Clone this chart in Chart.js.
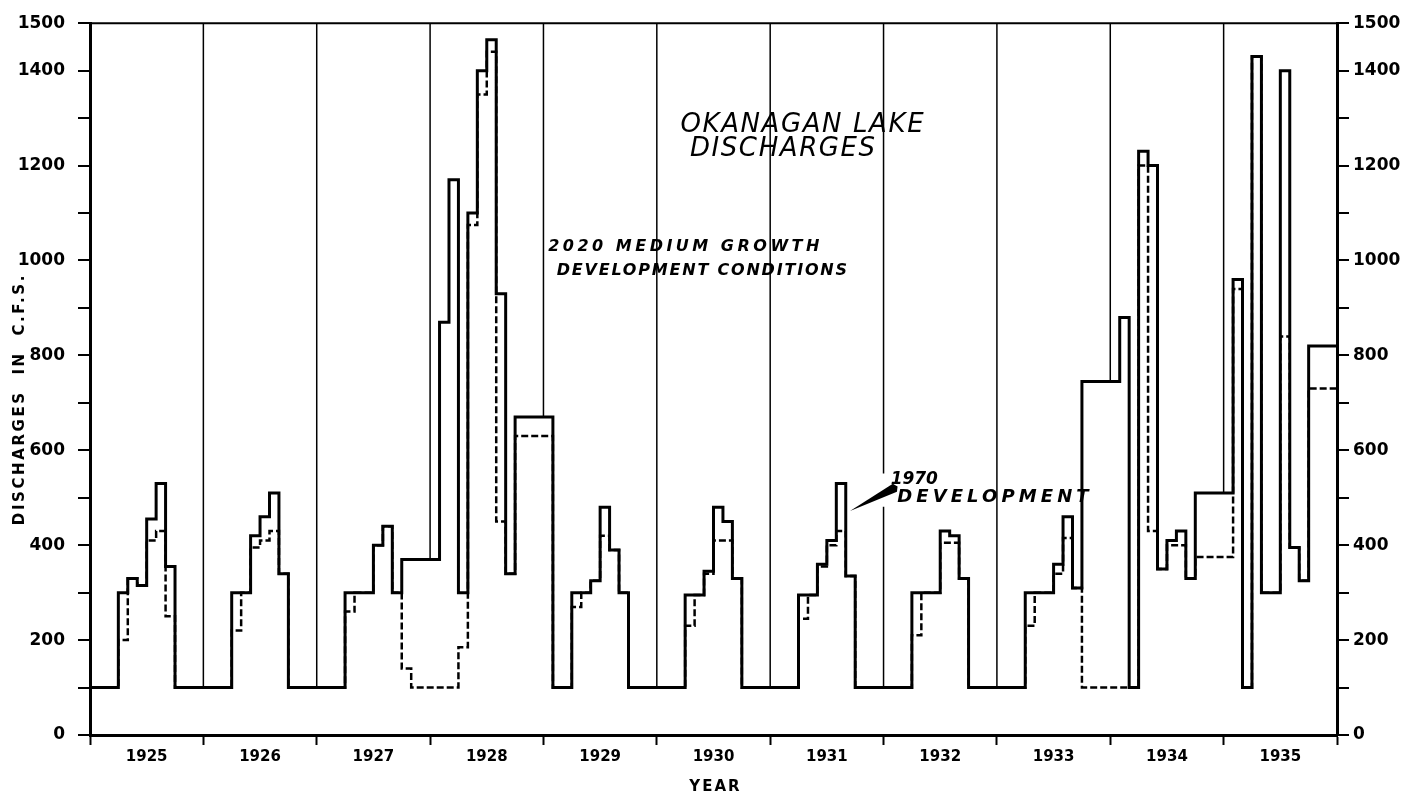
<!DOCTYPE html>
<html>
<head>
<meta charset="utf-8">
<script src="https://cdn.jsdelivr.net/npm/chart.js@4"></script>
<style>
  html, body { margin: 0; padding: 0; background: #fff; }
  canvas { display: block; }
</style>
</head>
<body>
<canvas id="myChart" width="1411" height="800"></canvas>
<script>
// years along the bottom, one block of 12 monthly values each
const years = [1925, 1926, 1927, 1928, 1929, 1930, 1931, 1932, 1933, 1934, 1935];

// 1970 development (heavy solid line), cfs, Jan..Dec for each year
const dev1970 = [
    100, 100, 100, 300, 330, 315, 455, 530, 355, 100, 100, 100,   // 1925
    100, 100, 100, 300, 300, 420, 460, 510, 340, 100, 100, 100,   // 1926
    100, 100, 100, 300, 300, 300, 400, 440, 300, 370, 370, 370,   // 1927
    370, 870, 1170, 300, 1100, 1400, 1465, 930, 340, 670, 670, 670, // 1928
    670, 100, 100, 300, 300, 325, 480, 390, 300, 100, 100, 100,   // 1929
    100, 100, 100, 295, 295, 345, 480, 450, 330, 100, 100, 100,   // 1930
    100, 100, 100, 295, 295, 360, 410, 530, 335, 100, 100, 100,   // 1931
    100, 100, 100, 300, 300, 300, 430, 420, 330, 100, 100, 100,   // 1932
    100, 100, 100, 300, 300, 300, 360, 460, 310, 745, 745, 745,   // 1933
    745, 880, 100, 1230, 1200, 350, 410, 430, 330, 510, 510, 510, // 1934
    510, 960, 100, 1430, 300, 300, 1400, 395, 325, 820, 820, 820  // 1935
];

// 2020 medium growth development conditions (dashed line)
const dev2020 = [
    100, 100, 100, 200, 330, 315, 410, 430, 250, 100, 100, 100,   // 1925
    100, 100, 100, 220, 300, 395, 410, 430, 340, 100, 100, 100,   // 1926
    100, 100, 100, 260, 300, 300, 400, 440, 300, 140, 100, 100,   // 1927
    100, 100, 100, 185, 1075, 1350, 1440, 450, 340, 630, 630, 630, // 1928
    630, 100, 100, 270, 300, 325, 420, 390, 300, 100, 100, 100,   // 1929
    100, 100, 100, 230, 295, 340, 410, 410, 330, 100, 100, 100,   // 1930
    100, 100, 100, 245, 295, 355, 400, 430, 335, 100, 100, 100,   // 1931
    100, 100, 100, 210, 300, 300, 405, 405, 330, 100, 100, 100,   // 1932
    100, 100, 100, 230, 300, 300, 340, 415, 310, 100, 100, 100,   // 1933
    100, 100, 100, 1200, 430, 350, 400, 400, 330, 375, 375, 375,  // 1934
    375, 940, 100, 1430, 300, 300, 840, 395, 325, 730, 730, 730   // 1935
];

const yMax = 1500;

// month index -> {x, y}; extra point closes the last month at the right axis
function toSteps(values) {
    let pts = values.map((v, i) => ({x: i, y: v}));
    pts.push({x: values.length, y: values[values.length - 1]});
    return pts;
}

const FONT = '"DejaVu Sans", sans-serif';

function drawSpaced(ctx, text, x, y, font, spacing) {
    ctx.font = font;
    ctx.letterSpacing = spacing + 'px';
    ctx.fillText(text, x, y);
    ctx.letterSpacing = '0px';
}

// year dividers, frame top, lettering and the 1970 pointer
const extras = {
    id: 'extras',
    beforeDatasetsDraw(chart) {
        const ctx = chart.ctx;
        const xs = chart.scales.x, ys = chart.scales.y;
        const area = chart.chartArea;
        ctx.save();
        ctx.strokeStyle = '#000';
        ctx.lineWidth = 1.5;
        for (let k = 1; k < years.length; k++) {
            let i = 12 * k;
            let x = xs.getPixelForValue(i);
            let low = Math.max(dev1970[i - 1], dev1970[i]);
            let segs = [[low, yMax]];
            if (i === 84) segs = [[low, 481], [551, yMax]];
            segs.forEach(s => {
                ctx.beginPath();
                ctx.moveTo(x, ys.getPixelForValue(s[0]));
                ctx.lineTo(x, ys.getPixelForValue(s[1]));
                ctx.stroke();
            });
        }
        ctx.lineWidth = 2;
        ctx.beginPath();
        ctx.moveTo(area.left, area.top);
        ctx.lineTo(area.right, area.top);
        ctx.stroke();
        ctx.restore();
    },
    afterDraw(chart) {
        const ctx = chart.ctx;
        const xs = chart.scales.x, ys = chart.scales.y;
        const px = v => xs.getPixelForValue(v);
        const py = v => ys.getPixelForValue(v);
        ctx.save();
        ctx.fillStyle = '#000';
        ctx.textBaseline = 'alphabetic';
        ctx.textAlign = 'left';

        drawSpaced(ctx, 'OKANAGAN LAKE', px(62.5), py(1270), 'italic 500 26px ' + FONT, 1.6);
        drawSpaced(ctx, 'DISCHARGES', px(63.5), py(1220), 'italic 500 26px ' + FONT, 1.6);

        drawSpaced(ctx, '2020 MEDIUM GROWTH', px(48.5), py(1019), 'italic bold 16px ' + FONT, 3.5);
        drawSpaced(ctx, 'DEVELOPMENT CONDITIONS', px(49.4), py(969), 'italic bold 16px ' + FONT, 1.8);

        drawSpaced(ctx, '1970', px(84.75), py(529), 'italic bold 17px ' + FONT, 0);
        drawSpaced(ctx, 'DEVELOPMENT', px(85.45), py(492), 'italic bold 18px ' + FONT, 4.1);

        // pointer wedge from the label to the 1970 line
        let tx = px(80.45), ty = py(472);
        let bx = px(85.2), by = py(521);
        let dx = bx - tx, dy = by - ty;
        let len = Math.hypot(dx, dy);
        let nx = -dy / len * 4.5, ny = dx / len * 4.5;
        ctx.beginPath();
        ctx.moveTo(tx, ty);
        ctx.lineTo(bx + nx, by + ny);
        ctx.lineTo(bx + dx / len * 3, by + dy / len * 3);
        ctx.lineTo(bx - nx, by - ny);
        ctx.closePath();
        ctx.fill();

        // axis titles
        ctx.textAlign = 'center';
        ctx.textBaseline = 'middle';
        ctx.save();
        ctx.translate(20, (chart.chartArea.top + chart.chartArea.bottom) / 2 + 20);
        ctx.rotate(-Math.PI / 2);
        drawSpaced(ctx, 'DISCHARGES  IN  C.F.S.', 0, 0, 'bold 15px ' + FONT, 2.6);
        ctx.restore();
        drawSpaced(ctx, 'YEAR', (chart.chartArea.left + chart.chartArea.right) / 2 + 2, 787, 'bold 15px ' + FONT, 2);
        ctx.restore();
    }
};

function yAxis(position, width, pad) {
    return {
        type: 'linear',
        position: position,
        display: true,
        min: 0,
        max: yMax,
        ticks: {
            stepSize: 100,
            autoSkip: false,
            padding: pad,
            color: '#000',
            font: {family: FONT, weight: 'bold', size: 17},
            callback: v => (v % 200 === 0 || v === yMax) ? v : ''
        },
        grid: {drawOnChartArea: false, tickLength: 12, color: '#000', lineWidth: 2},
        border: {color: '#000', width: 3},
        afterFit: s => { s.width = width; }
    };
}

const ctx = document.getElementById('myChart');

const myChart = new Chart(ctx, {
    type: 'line',
    data: {
        datasets: [
            {
                label: '1970 Development',
                data: toSteps(dev1970),
                stepped: true,
                borderColor: '#000',
                borderWidth: 3,
                borderJoinStyle: 'miter',
                pointRadius: 0,
                fill: false
            },
            {
                label: '2020 Medium Growth Development Conditions',
                data: toSteps(dev2020),
                stepped: true,
                borderColor: '#000',
                borderWidth: 2.5,
                borderDash: [7, 3],
                pointRadius: 0,
                fill: false
            }
        ]
    },
    options: {
        responsive: false,
        animation: false,
        devicePixelRatio: 1,
        parsing: false,
        layout: {padding: {top: 17, right: 0, left: 0, bottom: 0}},
        plugins: {
            legend: {display: false},
            tooltip: {enabled: false},
            title: {display: false}
        },
        scales: {
            x: {
                type: 'linear',
                position: 'bottom',
                min: 0,
                max: years.length * 12,
                afterBuildTicks: scale => {
                    let t = [];
                    for (let v = 0; v <= years.length * 12; v += 6) t.push({value: v});
                    scale.ticks = t;
                },
                ticks: {
                    autoSkip: false,
                    maxRotation: 0,
                    padding: 3,
                    color: '#000',
                    font: {family: FONT, weight: 'bold', size: 15},
                    callback: v => (v % 12 === 6) ? String(years[(v - 6) / 12]) : ''
                },
                grid: {
                    drawOnChartArea: false,
                    tickLength: 10,
                    tickWidth: 2,
                    tickColor: c => (c.tick && c.tick.value % 12 === 0) ? '#000' : 'rgba(0,0,0,0)'
                },
                border: {color: '#000', width: 3},
                afterFit: s => { s.height = 65; }
            },
            y: yAxis('left', 90, 13),
            y2: yAxis('right', 74, 4)
        }
    },
    plugins: [extras]
});
</script>
</body>
</html>
